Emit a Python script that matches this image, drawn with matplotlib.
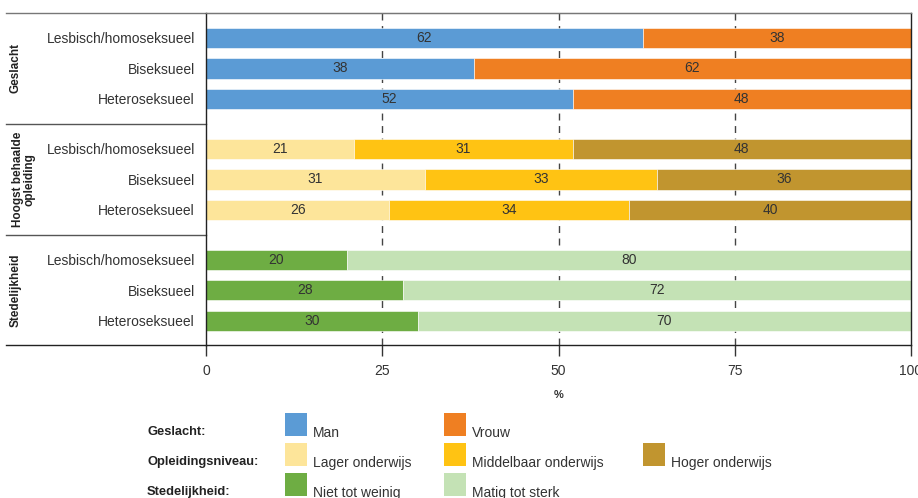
import matplotlib.pyplot as plt
from matplotlib.patches import Rectangle

plt.rcParams["font.family"] = ["Liberation Sans", "DejaVu Sans"]

groups = ["Geslacht", "Hoogst behaalde\nopleiding", "Stedelijkheid"]
legend_titles = ["Geslacht:", "Opleidingsniveau:", "Stedelijkheid:"]
rows = ["Lesbisch/homoseksueel", "Biseksueel", "Heteroseksueel"]

# geslacht
man = [62, 38, 52]
vrouw = [38, 62, 48]
# opleiding
lager = [21, 31, 26]
middelbaar = [31, 33, 34]
hoger = [48, 36, 40]
# stedelijkheid
niet_weinig = [20, 28, 30]
matig_sterk = [80, 72, 70]

series = [
    [("Man", man, "#5b9bd5"), ("Vrouw", vrouw, "#ef7f22")],
    [("Lager onderwijs", lager, "#fde59a"),
     ("Middelbaar onderwijs", middelbaar, "#ffc313"),
     ("Hoger onderwijs", hoger, "#c1952f")],
    [("Niet tot weinig", niet_weinig, "#6ead43"),
     ("Matig tot sterk", matig_sterk, "#c4e2b5")],
]

W, H = 918, 498
fig = plt.figure(figsize=(W / 100, H / 100), dpi=100)
ax = fig.add_axes([206 / W, 1 - 345 / H, 705 / W, 332 / H])

group_step = 3.64
ypos, ylabels = [], []
for g, grp in enumerate(series):
    ys = [g * group_step + r for r in range(len(rows))]
    left = [0] * len(rows)
    for name, vals, col in grp:
        ax.barh(ys, vals, left=left, height=0.66, color=col,
                edgecolor="white", linewidth=0.4, zorder=2)
        for y, l, v in zip(ys, left, vals):
            ax.text(l + v / 2, y, str(v), ha="center", va="center",
                    fontsize=10, color="#333333", zorder=3)
        left = [a + b for a, b in zip(left, vals)]
    ypos += ys
    ylabels += rows
    # group label
    ax.text(-0.27 if "\n" not in groups[g] else -0.258, g * group_step + 1,
            groups[g], rotation=90, ha="center", va="center",
            fontsize=8.5, fontweight="bold", color="#222222",
            transform=ax.get_yaxis_transform(), linespacing=0.95)

ax.set_xlim(0, 100)
ax.set_ylim(2 * group_step + 2.79, -0.82)
ax.set_yticks(ypos)
ax.set_yticklabels(ylabels, fontsize=10, color="#333333")
ax.tick_params(axis="y", length=0, pad=8)

ax.set_xticks([0, 25, 50, 75, 100])
ax.tick_params(axis="x", length=8, width=1, color="#333333", pad=6,
               labelsize=10, labelcolor="#333333")
ax.set_xlabel("%", fontsize=8, fontweight="bold", color="#333333", labelpad=8)

for x in [25, 50, 75]:
    ax.axvline(x, color="#444444", linewidth=1, linestyle=(0, (5, 4)), zorder=1)

for s in ["left", "right", "bottom"]:
    ax.spines[s].set_color("#222222")
    ax.spines[s].set_linewidth(1)
ax.spines["top"].set_color("#777777")

# horizontal lines extending into the label area
x0 = (6 - 206) / 705
ax.plot([x0, 1], [1, 1], transform=ax.transAxes, color="#777777",
        linewidth=1, clip_on=False)
ax.plot([x0, 0], [0, 0], transform=ax.transAxes, color="#222222",
        linewidth=1, clip_on=False)
for g in range(1, len(series)):
    ysep = (g - 1) * group_step + 2 + (group_step - 2) / 2
    ax.plot([x0, 0], [ysep, ysep], transform=ax.get_yaxis_transform(),
            color="#555555", linewidth=1, clip_on=False)

# legend
col_x = [285, 444, 643]
for r, grp in enumerate(series):
    top = 413 + r * 30
    fig.text(147 / W, 1 - (top + 19) / H, legend_titles[r], fontsize=9.3,
             fontweight="bold", color="#222222", va="center")
    for c, (name, vals, col) in enumerate(grp):
        fig.add_artist(Rectangle((col_x[c] / W, 1 - (top + 23) / H),
                                 22 / W, 23 / H, facecolor=col,
                                 edgecolor="none", transform=fig.transFigure))
        fig.text((col_x[c] + 28) / W, 1 - (top + 20) / H, name, fontsize=10,
                 color="#333333", va="center")

fig.savefig("out.png", dpi=100)
